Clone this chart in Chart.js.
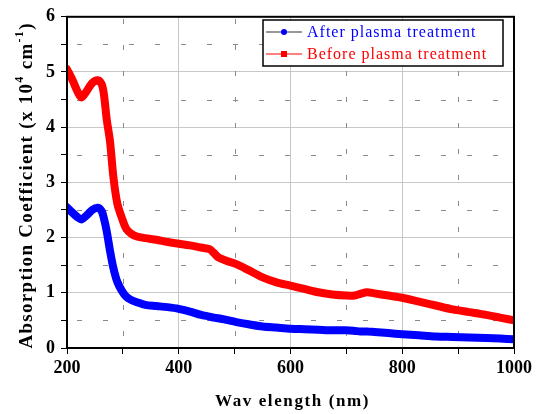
<!DOCTYPE html>
<html lang="en">
<head>
  <meta charset="UTF-8" />
  <title>Absorption Coefficient</title>
  <script src="https://cdn.jsdelivr.net/npm/chart.js"></script>
  <style>
    body { margin: 0; background: #fff; }
  </style>
</head>
<body>
  <canvas id="absChart" width="540" height="414"></canvas>

  <script>
    // wavelength in nm, absorption in 10^4 cm^-1
    const wavelengths = [200, 210, 220, 226, 235, 245, 255, 262, 266, 271, 277, 283, 290, 298, 306, 315, 325, 340, 360, 380,
      400, 420, 440, 455, 463, 471, 485, 503, 525, 550, 575, 600, 625, 650, 675, 700, 715, 725, 737, 750,
      775, 800, 830, 860, 890, 920, 950, 975, 1000];
    const beforePlasma = [5.05, 4.85, 4.62, 4.54, 4.65, 4.8, 4.85, 4.78, 4.6, 4.15, 3.74, 3.1, 2.62, 2.36, 2.16, 2.07, 2.02, 1.99, 1.96, 1.92,
      1.89, 1.86, 1.82, 1.79, 1.72, 1.64, 1.58, 1.52, 1.41, 1.28, 1.19, 1.13, 1.07, 1.01, 0.97, 0.95, 0.95, 0.98, 1.01, 0.99,
      0.95, 0.91, 0.84, 0.77, 0.70, 0.65, 0.60, 0.55, 0.50];
    const afterPlasma = [2.55, 2.45, 2.36, 2.33, 2.4, 2.5, 2.54, 2.48, 2.35, 2.12, 1.76, 1.45, 1.2, 1.04, 0.93, 0.87, 0.83, 0.78, 0.76, 0.74,
      0.71, 0.66, 0.6, 0.57, 0.55, 0.54, 0.51, 0.47, 0.43, 0.39, 0.37, 0.35, 0.34, 0.33, 0.32, 0.32, 0.31, 0.3, 0.3, 0.29,
      0.27, 0.25, 0.23, 0.21, 0.2, 0.19, 0.18, 0.17, 0.16];

    const seriesNames = ['After plasma treatment', 'Before plasma treatment'];
    const xMajor = 200, xMinor = 100;
    const yMajor = 1, yMinor = 0.5;

    const serif = '"Liberation Serif", "Times New Roman", serif';

    const pts = arr => wavelengths.map((w, i) => ({ x: w, y: arr[i] }));

    // dashed minor grid, outer frame, axis titles and the boxed legend
    const decor = {
      id: 'decor',
      beforeDatasetsDraw(chart) {
        const { ctx, chartArea: a, scales: { x, y } } = chart;
        ctx.save();
        ctx.strokeStyle = '#8a8a8a';
        ctx.lineWidth = 1;
        ctx.setLineDash([5, 21]);
        for (let v = x.min + xMinor; v < x.max; v += xMajor) {
          const px = Math.round(x.getPixelForValue(v)) + 0.5;
          ctx.lineDashOffset = -12;
          ctx.beginPath(); ctx.moveTo(px, a.bottom); ctx.lineTo(px, a.top); ctx.stroke();
        }
        for (let v = y.min + yMinor; v < y.max; v += yMajor) {
          const py = Math.round(y.getPixelForValue(v)) + 0.5;
          ctx.lineDashOffset = -10;
          ctx.beginPath(); ctx.moveTo(a.left, py); ctx.lineTo(a.right, py); ctx.stroke();
        }
        ctx.restore();
      },
      afterDraw(chart) {
        const { ctx, chartArea: a } = chart;
        ctx.save();
        ctx.setLineDash([]);
        ctx.strokeStyle = '#000';
        ctx.lineWidth = 2;
        ctx.strokeRect(a.left, a.top, a.right - a.left, a.bottom - a.top);

        // x title
        ctx.fillStyle = '#000';
        ctx.font = 'bold 17px ' + serif;
        ctx.textAlign = 'center';
        ctx.textBaseline = 'middle';
        ctx.letterSpacing = '1.6px';
        ctx.fillText('Wav elength (nm)', (a.left + a.right) / 2 + 2, 402);

        // y title with superscripts, rotated
        ctx.translate(27, (a.top + a.bottom) / 2 + 3);
        ctx.rotate(-Math.PI / 2);
        ctx.letterSpacing = '1.3px';
        const big = 'bold 19px ' + serif, small = 'bold 12px ' + serif;
        const parts = [['Absorption Coefficient (x 10', big, 0], ['4', small, -7], [' cm', big, 0], ['-1', small, -7], [')', big, 0]];
        let total = 0;
        parts.forEach(p => { ctx.font = p[1]; total += ctx.measureText(p[0]).width; });
        let cx = -total / 2;
        ctx.textAlign = 'left';
        parts.forEach(p => {
          ctx.font = p[1];
          ctx.fillText(p[0], cx, p[2]);
          cx += ctx.measureText(p[0]).width;
        });
        ctx.restore();

        // legend
        ctx.save();
        const lx = 263, ly = 20, lw = 240, lh = 46;
        ctx.fillStyle = '#fff';
        ctx.fillRect(lx, ly, lw, lh);
        ctx.strokeStyle = '#000';
        ctx.lineWidth = 1.5;
        ctx.strokeRect(lx, ly, lw, lh);
        const rows = [
          { name: seriesNames[0], line: '#333', mark: '#0000ff', round: true, y: ly + 12 },
          { name: seriesNames[1], line: '#ff0000', mark: '#ff0000', round: false, y: ly + 34 }
        ];
        ctx.font = '16px ' + serif;
        ctx.letterSpacing = '1px';
        ctx.textBaseline = 'middle';
        rows.forEach(r => {
          ctx.strokeStyle = r.line;
          ctx.lineWidth = 1.2;
          ctx.beginPath(); ctx.moveTo(lx + 3, r.y); ctx.lineTo(lx + 39, r.y); ctx.stroke();
          ctx.fillStyle = r.mark;
          if (r.round) { ctx.beginPath(); ctx.arc(lx + 21, r.y, 3, 0, Math.PI * 2); ctx.fill(); }
          else ctx.fillRect(lx + 18, r.y - 3, 6, 6);
          ctx.fillStyle = r.mark;
          ctx.fillText(r.name, lx + 44, r.y + 1);
        });
        ctx.restore();
      }
    };

    new Chart(document.getElementById('absChart'), {
      type: 'line',
      data: {
        datasets: [
          { label: seriesNames[0], data: pts(afterPlasma), borderColor: '#0000ff', backgroundColor: '#0000ff' },
          { label: seriesNames[1], data: pts(beforePlasma), borderColor: '#ff0000', backgroundColor: '#ff0000' }
        ]
      },
      options: {
        responsive: false,
        animation: false,
        layout: { padding: { top: 14, right: 26, left: 0, bottom: 0 } },
        elements: {
          line: { borderWidth: 8, tension: 0.3, fill: false, borderCapStyle: 'round', borderJoinStyle: 'round' },
          point: { radius: 0 }
        },
        plugins: { legend: { display: false }, tooltip: { enabled: false } },
        scales: {
          x: {
            type: 'linear', min: 200, max: 1000,
            afterFit: s => { s.height = 66; },
            ticks: {
              stepSize: xMinor, autoSkip: false, maxRotation: 0, padding: 4, color: '#000',
              font: { family: serif, size: 18, weight: 'bold' },
              callback: v => (v % xMajor === 0 ? v : '')
            },
            grid: {
              color: c => (c.tick && c.tick.value % xMajor === 0 ? '#c8c8c8' : 'rgba(0,0,0,0)'),
              tickColor: '#000', tickLength: 6, lineWidth: 1
            },
            border: { color: '#000', width: 2 }
          },
          y: {
            min: 0, max: 6,
            afterFit: s => { s.width = 67; },
            ticks: {
              stepSize: yMinor, autoSkip: false, padding: 6, color: '#000',
              font: { family: serif, size: 18, weight: 'bold' },
              callback: v => (Number.isInteger(v) ? v : '')
            },
            grid: {
              color: c => (c.tick && Number.isInteger(c.tick.value) ? '#c8c8c8' : 'rgba(0,0,0,0)'),
              tickColor: '#000', tickLength: 6, lineWidth: 1
            },
            border: { color: '#000', width: 2 }
          }
        }
      },
      plugins: [decor]
    });
  </script>
</body>
</html>
